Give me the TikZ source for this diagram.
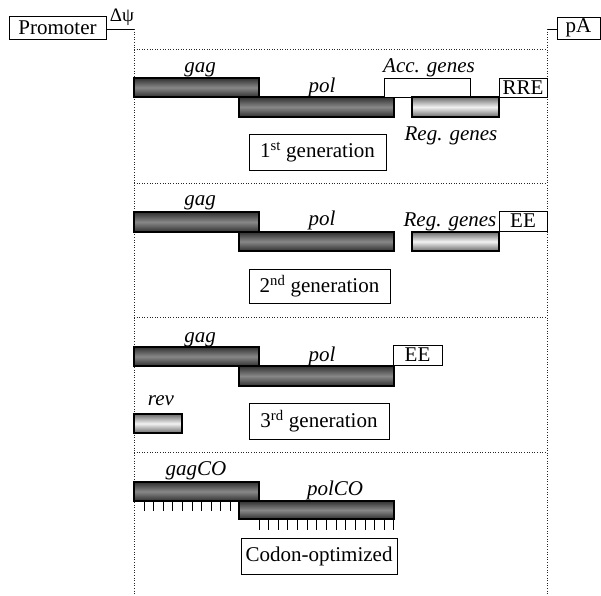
\documentclass[tikz,border=0pt]{standalone}
\usepackage{fontspec}
\setmainfont{Liberation Serif}
\definecolor{darkedge}{HTML}{303030}
\definecolor{darkmid}{HTML}{888888}
\definecolor{lightedge}{HTML}{6A6A6A}
\definecolor{lightmid}{HTML}{F2F2F2}
\tikzset{
  txt/.style={font=\fontsize{21}{24}\selectfont, inner sep=0pt},
  itxt/.style={font=\fontsize{21}{24}\selectfont\itshape, inner sep=0pt, anchor=base},
  boxed/.style={draw, line width=0.9pt, fill=white, inner sep=0pt, font=\fontsize{21}{24}\selectfont},
  darkbar/.style={draw=black, line width=1.1pt, top color=darkedge, bottom color=darkedge, middle color=darkmid},
  lightbar/.style={draw=black, line width=1.1pt, top color=lightedge, bottom color=lightedge, middle color=lightmid},
  openbox/.style={draw=black, line width=0.9pt, fill=white},
  guide/.style={dotted, line width=0.6pt, black!85},
  tick/.style={line width=1pt},
  conn/.style={line width=0.9pt}
}
\begin{document}
\begin{tikzpicture}[x=1pt,y=-1pt]
\useasboundingbox (0,0) rectangle (601,595);
% top elements
\node[boxed, minimum width=97pt, minimum height=23pt] (prom) at (57.5,28) {Promoter};
\node[boxed, minimum width=43pt, minimum height=22pt] (pa) at (578.5,28) {pA};
\coordinate (lt) at (134,29);
\coordinate (rt) at (547,29);
\coordinate (lb) at (134,595);
\coordinate (rb) at (547,595);
\draw[conn] (prom.east |- lt) -- (lt);
\draw[conn] (rt) -- (pa.west |- rt);
\node[font=\fontsize{19}{21}\selectfont, inner sep=0pt, anchor=base] (dpsi) at (122,21) {Δψ};
\draw[guide] (lt) -- (lb);
\draw[guide] (rt) -- (rb);
\foreach \yy in {49,183,317,452} { \draw[guide] (134,\yy) -- (547,\yy); }

% ---- 1st generation
\path[darkbar] (134,78) rectangle (259,97);
\path[darkbar] (239,97) rectangle (394,117);
\path[openbox] (384,78) rectangle (470,97);
\path[lightbar] (412,97) rectangle (499,117);
\node[boxed, minimum width=48pt, minimum height=19pt] (rre) at (523,87.5) {RRE};
\node[itxt] (gag1) at (200,72) {gag};
\node[itxt] (pol1) at (322,92) {pol};
\node[itxt] (acc1) at (429,72) {Acc. genes};
\node[itxt] (reg1) at (451,140) {Reg. genes};
\node[boxed, minimum width=137pt, minimum height=36pt] (g1) at (317.5,152) {1\textsuperscript{st} generation};

% ---- 2nd generation
\path[darkbar] (134,212) rectangle (259,232);
\path[darkbar] (239,232) rectangle (394,251);
\path[lightbar] (412,232) rectangle (499,251);
\node[boxed, minimum width=48pt, minimum height=20pt] (ee2) at (523,221) {EE};
\node[itxt] (gag2) at (200,205) {gag};
\node[itxt] (pol2) at (322,225) {pol};
\node[itxt] (reg2) at (450,226) {Reg. genes};
\node[boxed, minimum width=141pt, minimum height=34pt] (g2) at (319.5,286) {2\textsuperscript{nd} generation};

% ---- 3rd generation
\path[darkbar] (134,347) rectangle (259,366);
\path[darkbar] (239,366) rectangle (394,386);
\path[lightbar] (134,414) rectangle (182,433);
\node[boxed, minimum width=49pt, minimum height=20pt] (ee3) at (417.5,355) {EE};
\node[itxt] (gag3) at (200,342) {gag};
\node[itxt] (pol3) at (322,361) {pol};
\node[itxt] (rev3) at (161,405) {rev};
\node[boxed, minimum width=140pt, minimum height=36pt] (g3) at (319,421) {3\textsuperscript{rd} generation};

% ---- codon-optimized
\path[darkbar] (134,482) rectangle (259,501);
\path[darkbar] (239,501) rectangle (394,519);
\foreach \k in {0,...,9} { \draw[tick] ({144+9.6*\k},501) -- ({144+9.6*\k},511); }
\foreach \k in {0,...,14} { \draw[tick] ({259+9.64*\k},519) -- ({259+9.64*\k},530); }
\node[itxt] (gag4) at (196,475) {gagCO};
\node[itxt] (pol4) at (335,495) {polCO};
\node[boxed, minimum width=156pt, minimum height=36pt] (g4) at (319,556) {Codon-optimized};
\end{tikzpicture}
\end{document}
